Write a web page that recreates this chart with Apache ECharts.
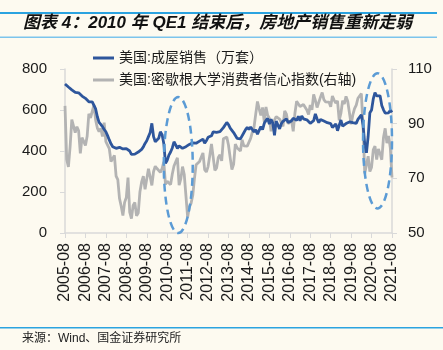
<!DOCTYPE html>
<html>
<head>
<meta charset="utf-8">
<script src="https://cdn.jsdelivr.net/npm/echarts@6/dist/echarts.min.js"></script>
<style>
	html, body { margin: 0; padding: 0; background: #FDFAF0; }
	#chart_1 { width: 443px; height: 350px; }
</style>
</head>
<body>
<div id="chart_1"></div>
<script>
// 月份: 2005-08 ~ 2021-08
var startYear = 2005, startMonth = 8, monthCount = 193;
var months = [];
for (var i = 0; i < monthCount; i++) {
	var m = startMonth - 1 + i;
	var y = startYear + Math.floor(m / 12);
	var mm = (m % 12) + 1;
	months.push(y + '-' + (mm < 10 ? '0' + mm : mm));
}

// 美国:成屋销售（万套）
var homeSales = [
	727, 720, 712, 705, 698,
	690, 686, 681, 684, 676, 668, 662, 657, 648, 640, 638, 640,
	642, 605, 567, 540, 530, 519, 505, 494, 475, 454, 435, 421,
	415, 413, 412, 418, 412, 410, 415, 412, 420, 400, 383, 388,
	385, 390, 395, 400, 408, 420, 437, 450, 470, 490, 535, 470,
	445, 450, 462, 494, 480, 437, 340, 355, 380, 395, 415, 445,
	430, 413, 425, 418, 413, 410, 421, 425, 432, 437, 440, 445,
	438, 446, 448, 452, 458, 438, 450, 467, 468, 474, 493, 494,
	491, 495, 494, 497, 514, 508, 539, 529, 512, 512, 490, 487,
	462, 460, 459, 465, 489, 504, 515, 505, 517, 526, 493, 504,
	482, 488, 519, 504, 535, 549, 559, 531, 555, 536, 476, 546,
	547, 508, 533, 545, 553, 557, 539, 533, 547, 560, 561, 549,
	569, 548, 571, 557, 562, 552, 544, 535, 539, 548, 581, 557,
	538, 554, 560, 546, 543, 538, 534, 534, 515, 522, 532, 499,
	494, 551, 521, 519, 534, 527, 542, 549, 538, 546, 535, 554,
	546, 577, 527, 433, 391, 472, 586, 600, 654, 685, 669, 676,
	669, 622, 601, 585, 580, 586, 599, 588
];

// 美国:密歇根大学消费者信心指数(右轴)
var sentiment = [
	96.5, 76.9, 74.2, 81.6, 91.5,
	91.2, 86.7, 88.9, 87.4, 79.1, 84.9, 84.7, 82.0, 85.4, 93.6, 92.1, 91.7,
	96.9, 91.3, 88.4, 87.1, 88.3, 85.3, 90.4, 83.4, 83.4, 80.9, 76.1, 75.5,
	78.4, 70.8, 69.5, 62.6, 59.8, 56.4, 61.2, 63.0, 70.3, 57.6, 55.3, 60.1,
	61.2, 56.3, 57.3, 65.1, 68.7, 70.8, 66.0, 65.7, 73.5, 70.6, 67.4, 72.5,
	74.4, 73.6, 73.6, 72.2, 73.6, 76.0, 67.8, 68.9, 68.2, 67.7, 71.6, 74.5,
	74.2, 77.5, 67.5, 69.8, 74.3, 71.5, 63.7, 55.8, 59.5, 60.8, 63.7, 69.9,
	75.0, 75.3, 76.2, 76.4, 79.3, 73.2, 72.3, 74.3, 78.3, 82.6, 82.7, 72.9,
	73.8, 77.6, 78.6, 76.4, 84.5, 84.1, 85.1, 82.1, 77.5, 73.2, 75.1, 82.5,
	81.2, 81.6, 80.0, 84.1, 81.9, 82.5, 81.8, 82.5, 84.6, 86.9, 88.8, 93.6,
	98.1, 95.4, 93.0, 95.9, 90.7, 96.1, 93.1, 91.9, 87.2, 90.0, 91.3, 92.6,
	92.0, 91.7, 91.0, 89.0, 94.7, 93.5, 90.0, 89.8, 91.2, 87.2, 93.8, 98.2,
	98.5, 96.3, 96.9, 97.0, 97.1, 95.0, 93.4, 96.8, 95.1, 100.7, 98.5, 95.9,
	95.7, 99.7, 101.4, 98.8, 98.0, 98.2, 97.9, 96.2, 100.1, 98.6, 97.5, 98.3,
	91.2, 93.8, 98.4, 97.2, 100.0, 98.2, 98.4, 89.8, 93.2, 95.5, 96.8, 99.3,
	99.8, 101.0, 89.1, 71.8, 72.3, 78.1, 72.5, 74.1, 80.4, 81.8, 76.9, 80.7,
	79.0, 76.8, 84.9, 88.3, 82.9, 85.5, 81.2, 70.3
];

var seriesNames = ['美国:成屋销售（万套）', '美国:密歇根大学消费者信心指数(右轴)'];
var leftTicks = { min: 0, max: 800, interval: 200 };
var rightTicks = { min: 50, max: 110, interval: 20 };

// 虚线椭圆标注: [起始月序号, 结束月序号, 左轴下沿, 左轴上沿]
var rings = [
	[58.2, 75.1, 0, 663],
	[175.0, 192.0, 120, 779]
];

var titleText = '图表 4：2010 年 QE1 结束后，房地产销售重新走弱';
var sourceText = '来源：Wind、国金证券研究所';

var font = "'Liberation Sans', 'Noto Sans CJK SC', sans-serif";
var axisGray = '#D9D9D9';

var myChart = echarts.init(document.getElementById('chart_1'));
var option = {
	backgroundColor: '#FDFAF0',
	animation: false,
	textStyle: { fontFamily: font },
	grid: { left: 65, right: 51, top: 69, bottom: 117 },
	legend: {
		data: seriesNames,
		orient: 'vertical',
		left: 88,
		top: 46,
		itemGap: 8,
		itemWidth: 21,
		itemHeight: 3,
		icon: 'rect',
		textStyle: { color: '#1a1a1a', fontSize: 14, fontFamily: font }
	},
	xAxis: {
		type: 'category',
		data: months,
		boundaryGap: false,
		axisLine: { lineStyle: { color: axisGray, width: 1.5 } },
		axisTick: { interval: 11, length: 5, lineStyle: { color: axisGray } },
		axisLabel: { interval: 11, rotate: 90, fontSize: 16, color: '#1a1a1a', margin: 10 },
		splitLine: { show: false }
	},
	yAxis: [{
		type: 'value',
		min: leftTicks.min,
		max: leftTicks.max,
		interval: leftTicks.interval,
		axisLine: { show: true, lineStyle: { color: axisGray, width: 1.5 } },
		axisTick: { show: true, length: 5, lineStyle: { color: axisGray } },
		axisLabel: { fontSize: 15, color: '#1a1a1a', margin: 18 },
		splitLine: { show: false }
	}, {
		type: 'value',
		min: rightTicks.min,
		max: rightTicks.max,
		interval: rightTicks.interval,
		axisLine: { show: true, lineStyle: { color: axisGray, width: 1.5 } },
		axisTick: { show: true, length: 5, lineStyle: { color: axisGray } },
		axisLabel: { fontSize: 15, color: '#1a1a1a', margin: 16 },
		splitLine: { show: false }
	}],
	series: [{
		name: seriesNames[0],
		type: 'line',
		yAxisIndex: 0,
		data: homeSales,
		symbol: 'none',
		z: 3,
		itemStyle: { color: '#2E569C' },
		lineStyle: { color: '#2E569C', width: 2.8 }
	}, {
		name: seriesNames[1],
		type: 'line',
		yAxisIndex: 1,
		data: sentiment,
		symbol: 'none',
		z: 2,
		itemStyle: { color: '#B3B3B3' },
		lineStyle: { color: '#B3B3B3', width: 2.8 }
	}]
};
myChart.setOption(option);

// 标题、来源、虚线椭圆
var graphics = [
	{ type: 'rect', shape: { x: 0, y: 12, width: 437, height: 2 }, style: { fill: '#2BA3E0' }, silent: true },
	{ type: 'rect', shape: { x: 0, y: 36.5, width: 437, height: 1.5 }, style: { fill: '#7CC4EC' }, silent: true },
	{
		type: 'text', left: 23, top: 15,
		style: { text: titleText, fill: '#111', font: "italic bold 17px 'Liberation Sans', 'Noto Sans CJK SC', sans-serif" }
	},
	{ type: 'rect', shape: { x: 0, y: 327, width: 443, height: 1.5 }, style: { fill: '#2BA3E0' }, silent: true },
	{
		type: 'text', left: 22, top: 333,
		style: { text: sourceText, fill: '#222', font: "12px 'Liberation Sans', 'Noto Sans CJK SC', sans-serif" }
	}
];
rings.forEach(function(r) {
	var a = myChart.convertToPixel({ xAxisIndex: 0, yAxisIndex: 0 }, [r[0], r[2]]);
	var b = myChart.convertToPixel({ xAxisIndex: 0, yAxisIndex: 0 }, [r[1], r[3]]);
	graphics.push({
		type: 'ellipse',
		z: 10,
		silent: true,
		shape: { cx: (a[0] + b[0]) / 2, cy: (a[1] + b[1]) / 2, rx: Math.abs(b[0] - a[0]) / 2, ry: Math.abs(b[1] - a[1]) / 2 },
		style: { fill: 'none', stroke: '#5B9BD5', lineWidth: 2.5, lineDash: [8, 5] }
	});
});
myChart.setOption({ graphic: graphics });
</script>
</body>
</html>
